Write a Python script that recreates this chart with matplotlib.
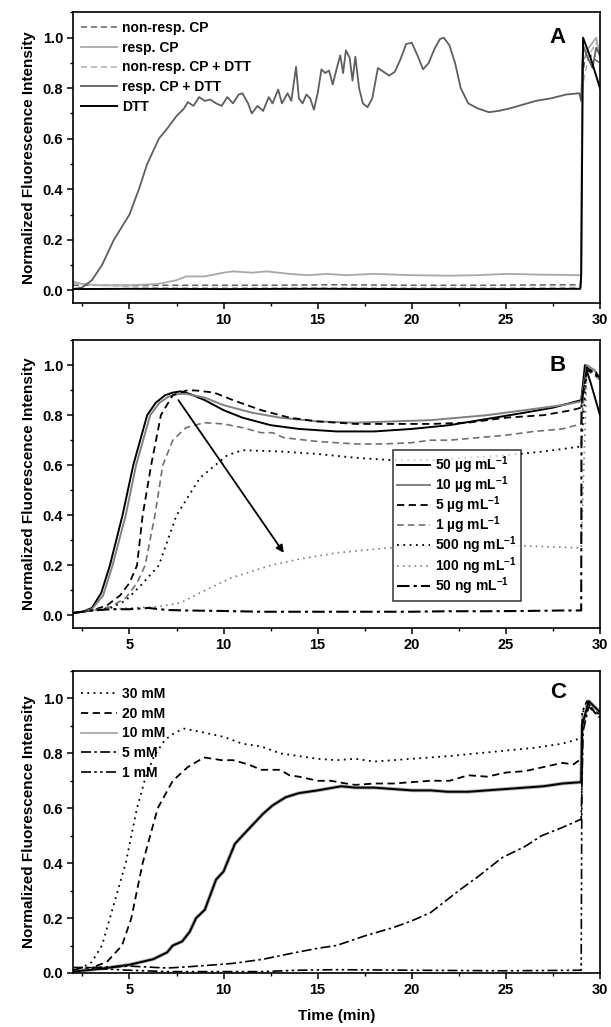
import numpy as np
import matplotlib
matplotlib.use("Agg")
import matplotlib.pyplot as plt
from matplotlib.ticker import MultipleLocator

plt.rcParams["font.family"] = ["Liberation Sans", "DejaVu Sans"]
plt.rcParams["font.weight"] = "bold"
plt.rcParams["mathtext.fontset"] = "custom"
plt.rcParams["mathtext.rm"] = "Liberation Sans:bold"
plt.rcParams["mathtext.bf"] = "Liberation Sans:bold"
plt.rcParams["mathtext.default"] = "bf"

# ---------------- Panel A data (time in min, normalized intensity) ----------------
a_labels = ["non-resp. CP", "resp. CP", "non-resp. CP + DTT", "resp. CP + DTT", "DTT"]

a_nonresp_t = [2.0, 3.0, 5.0, 8.0, 12.0, 16.0, 20.0, 24.0, 28.0, 29.0, 29.05, 29.3, 29.6, 30.0]
a_nonresp_y = [0.02, 0.02, 0.02, 0.02, 0.02, 0.022, 0.02, 0.02, 0.022, 0.022, 0.85, 0.95, 0.92, 0.90]

a_resp_t = [2.0, 2.5, 3.5, 5.0, 6.5, 7.5, 8.0, 9.0, 10.0, 10.5, 11.5, 12.3, 13.5, 14.5, 15.5,
            16.5, 18.0, 20.0, 22.0, 23.5, 25.0, 27.0, 29.0, 29.05, 29.4, 29.8, 30.0]
a_resp_y = [0.035, 0.025, 0.02, 0.02, 0.025, 0.04, 0.055, 0.055, 0.07, 0.075, 0.07, 0.075, 0.065,
            0.06, 0.065, 0.06, 0.065, 0.06, 0.058, 0.06, 0.065, 0.062, 0.06, 0.90, 0.96, 1.0, 0.92]

a_nonresp_dtt_t = [2.0, 2.5, 3.5, 5.0, 7.0, 10.0, 15.0, 20.0, 25.0, 29.0, 29.05, 29.4, 29.8, 30.0]
a_nonresp_dtt_y = [0.03, 0.025, 0.02, 0.015, 0.01, 0.01, 0.01, 0.01, 0.01, 0.012, 0.80, 0.93, 0.98, 0.95]

a_resp_dtt_t = [2.0, 2.5, 3.0, 3.54, 4.17, 5.0, 5.5, 5.94, 6.56, 7.0, 7.5, 7.9, 8.1, 8.4, 8.7, 9.0, 9.3,
                9.6, 9.9, 10.2, 10.5, 10.8, 11.0, 11.3, 11.5, 11.8, 12.1, 12.4, 12.6, 12.9, 13.1,
                13.4, 13.6, 13.85, 14.0, 14.2, 14.4, 14.6, 14.8, 15.0, 15.2, 15.4, 15.6, 15.8, 16.0,
                16.2, 16.35, 16.5, 16.7, 16.85, 17.0, 17.2, 17.4, 17.65, 17.9, 18.2, 18.5, 18.8,
                19.1, 19.4, 19.7, 20.0, 20.3, 20.6, 20.9, 21.2, 21.5, 21.7, 22.0, 22.3, 22.6,
                23.0, 23.5, 24.1, 24.6, 25.2, 25.9, 26.6, 27.4, 28.2, 28.9, 29.0, 29.1, 29.3,
                29.6, 29.8, 30.0]
a_resp_dtt_y = [0.005, 0.012, 0.04, 0.10, 0.20, 0.30, 0.40, 0.50, 0.60, 0.64, 0.69, 0.72, 0.745,
                0.73, 0.765, 0.75, 0.755, 0.74, 0.73, 0.765, 0.74, 0.775, 0.78, 0.74, 0.70, 0.73,
                0.71, 0.765, 0.74, 0.795, 0.74, 0.78, 0.75, 0.885, 0.76, 0.74, 0.775, 0.76, 0.715,
                0.78, 0.875, 0.86, 0.87, 0.815, 0.875, 0.93, 0.86, 0.95, 0.92, 0.83, 0.925, 0.80,
                0.74, 0.725, 0.76, 0.88, 0.865, 0.85, 0.865, 0.915, 0.975, 0.98, 0.93, 0.875,
                0.90, 0.955, 0.995, 1.0, 0.97, 0.90, 0.80, 0.74, 0.72, 0.705, 0.71, 0.72, 0.735,
                0.75, 0.76, 0.775, 0.78, 0.75, 0.97, 0.93, 0.88, 0.96, 0.93]

a_dtt_t = [2.0, 5.0, 10.0, 15.0, 20.0, 25.0, 28.95, 29.0, 29.1, 29.5, 30.0]
a_dtt_y = [0.005, 0.006, 0.005, 0.006, 0.005, 0.005, 0.006, 0.06, 1.0, 0.92, 0.80]

# ---------------- Panel B data ----------------
b_labels = ["50 µg mL$^{-1}$", "10 µg mL$^{-1}$", "5 µg mL$^{-1}$", "1 µg mL$^{-1}$",
            "500 ng mL$^{-1}$", "100 ng mL$^{-1}$", "50 ng mL$^{-1}$"]

b_50ug_t = [2.0, 2.5, 3.0, 3.5, 3.96, 4.63, 5.2, 5.94, 6.4, 6.9, 7.3, 7.7, 8.2, 9.0, 10.0, 11.0,
            12.5, 14.0, 16.0, 18.0, 20.0, 22.0, 24.0, 26.0, 27.5, 28.5, 29.0, 29.2, 29.5, 30.0]
b_50ug_y = [0.01, 0.015, 0.03, 0.09, 0.20, 0.40, 0.60, 0.80, 0.85, 0.88, 0.89, 0.895, 0.885,
            0.86, 0.82, 0.79, 0.76, 0.745, 0.735, 0.735, 0.745, 0.76, 0.785, 0.81, 0.83, 0.85,
            0.86, 1.0, 0.93, 0.80]

b_10ug_t = [2.0, 2.5, 3.0, 3.6, 4.1, 4.8, 5.35, 6.1, 6.6, 7.1, 7.6, 8.0, 9.0, 10.0, 11.5, 13.0,
            15.0, 17.0, 19.0, 21.0, 24.0, 26.0, 28.0, 29.0, 29.3, 29.7, 30.0]
b_10ug_y = [0.01, 0.015, 0.025, 0.08, 0.20, 0.40, 0.60, 0.80, 0.85, 0.875, 0.885, 0.885, 0.87,
            0.84, 0.81, 0.79, 0.775, 0.77, 0.775, 0.78, 0.80, 0.82, 0.84, 0.855, 1.0, 0.98, 0.95]

b_5ug_t = [2.0, 3.0, 3.8, 4.5, 5.0, 5.4, 5.7, 6.15, 6.67, 7.3, 8.1, 8.6, 9.5, 10.5, 12.0, 13.5,
           15.0, 17.0, 19.0, 21.0, 23.0, 25.0, 27.0, 28.5, 29.0, 29.3, 29.7, 30.0]
b_5ug_y = [0.01, 0.02, 0.04, 0.08, 0.13, 0.20, 0.40, 0.60, 0.80, 0.88, 0.90, 0.898, 0.89, 0.86,
           0.82, 0.79, 0.775, 0.765, 0.765, 0.765, 0.77, 0.79, 0.80, 0.82, 0.83, 0.99, 0.97, 0.95]

b_1ug_t = [2.0, 3.0, 4.0, 4.8, 5.4, 5.83, 6.35, 6.77, 7.3, 8.0, 8.96, 10.0, 11.0, 12.0, 12.6,
           13.2, 15.0, 17.0, 18.5, 20.0, 21.0, 22.0, 23.5, 25.0, 26.5, 28.0, 29.0, 29.3, 29.7, 30.0]
b_1ug_y = [0.01, 0.02, 0.035, 0.07, 0.13, 0.20, 0.40, 0.60, 0.70, 0.75, 0.77, 0.765, 0.75,
           0.73, 0.73, 0.71, 0.695, 0.685, 0.685, 0.69, 0.70, 0.70, 0.71, 0.72, 0.735, 0.745,
           0.765, 0.98, 0.96, 0.94]

b_500ng_t = [2.0, 3.0, 4.0, 4.8, 5.6, 6.56, 7.5, 8.75, 10.2, 11.0, 13.0, 15.0, 17.0, 19.0,
             21.0, 23.0, 25.0, 27.0, 29.0, 29.3, 29.7, 30.0]
b_500ng_y = [0.01, 0.02, 0.03, 0.06, 0.12, 0.20, 0.40, 0.55, 0.64, 0.66, 0.655, 0.645, 0.63,
             0.62, 0.62, 0.63, 0.64, 0.655, 0.675, 0.97, 0.98, 0.95]

b_100ng_t = [2.0, 3.0, 5.0, 6.5, 7.7, 9.0, 10.4, 12.5, 14.0, 16.0, 18.75, 21.0, 23.0, 25.0,
             27.0, 29.0, 29.3, 29.7, 30.0]
b_100ng_y = [0.01, 0.02, 0.03, 0.035, 0.05, 0.10, 0.15, 0.20, 0.225, 0.25, 0.27, 0.275, 0.275,
             0.28, 0.275, 0.27, 0.96, 0.98, 0.96]

b_50ng_t = [2.0, 3.0, 4.0, 5.0, 6.0, 7.0, 8.0, 10.0, 12.0, 14.0, 16.0, 18.0, 20.0, 22.0, 24.0,
            26.0, 28.0, 29.0, 29.02, 29.3, 29.7, 30.0]
b_50ng_y = [0.01, 0.02, 0.025, 0.025, 0.03, 0.022, 0.02, 0.018, 0.015, 0.015, 0.015, 0.015,
            0.015, 0.017, 0.017, 0.018, 0.02, 0.02, 0.85, 0.98, 0.97, 0.94]

# ---------------- Panel C data ----------------
c_labels = ["30 mM", "20 mM", "10 mM", "5 mM", "1 mM"]

c_30_t = [2.0, 2.5, 3.0, 3.54, 3.96, 4.8, 5.4, 5.8, 6.3, 6.9, 7.4, 7.9, 9.0, 10.0, 11.0, 12.0,
          13.0, 14.0, 15.0, 16.0, 17.0, 18.0, 20.0, 21.0, 22.0, 23.5, 25.0, 26.5, 28.0, 29.0,
          29.1, 29.4, 29.7, 30.0]
c_30_y = [0.01, 0.02, 0.04, 0.10, 0.20, 0.40, 0.60, 0.70, 0.79, 0.85, 0.875, 0.89, 0.875,
          0.86, 0.835, 0.825, 0.80, 0.79, 0.78, 0.775, 0.78, 0.77, 0.78, 0.785, 0.79, 0.80,
          0.81, 0.82, 0.835, 0.855, 0.95, 0.99, 0.96, 0.94]

c_20_t = [2.0, 3.0, 3.8, 4.6, 5.1, 5.7, 6.5, 7.3, 8.1, 8.96, 9.9, 10.5, 11.3, 12.0, 13.0, 13.5,
          14.0, 15.0, 15.7, 16.5, 17.0, 18.0, 19.0, 20.0, 21.0, 22.0, 23.0, 24.0, 25.0, 26.0,
          27.0, 28.0, 28.6, 29.0, 29.1, 29.4, 29.7, 30.0]
c_20_y = [0.01, 0.02, 0.04, 0.10, 0.20, 0.40, 0.60, 0.70, 0.75, 0.785, 0.775, 0.775, 0.76,
          0.74, 0.74, 0.72, 0.715, 0.70, 0.70, 0.69, 0.685, 0.69, 0.69, 0.695, 0.70, 0.70,
          0.72, 0.715, 0.73, 0.735, 0.75, 0.765, 0.76, 0.78, 0.93, 0.98, 0.95, 0.93]

c_10_t = [2.0, 3.0, 4.0, 5.0, 6.25, 7.0, 7.3, 7.8, 8.2, 8.54, 9.0, 9.6, 10.0, 10.6, 11.0, 12.1,
          12.6, 13.3, 14.0, 15.0, 16.25, 17.0, 18.0, 19.0, 20.0, 21.0, 21.9, 23.0, 24.0, 25.0,
          26.0, 27.0, 28.0, 29.0, 29.05, 29.4, 29.7, 30.0]
c_10_y = [0.005, 0.012, 0.02, 0.03, 0.05, 0.075, 0.10, 0.115, 0.15, 0.20, 0.23, 0.34, 0.37,
          0.47, 0.50, 0.58, 0.61, 0.64, 0.655, 0.665, 0.68, 0.675, 0.675, 0.67, 0.665, 0.665,
          0.66, 0.66, 0.665, 0.67, 0.675, 0.68, 0.69, 0.695, 0.90, 0.99, 0.97, 0.95]

c_5_t = [2.0, 3.0, 5.0, 7.0, 8.0, 9.6, 10.5, 12.1, 13.5, 15.0, 16.0, 17.5, 19.0, 20.0, 21.0,
         22.5, 23.5, 24.8, 26.0, 26.9, 28.0, 29.0, 29.1, 29.4, 29.7, 30.0]
c_5_y = [0.02, 0.02, 0.025, 0.018, 0.022, 0.03, 0.035, 0.05, 0.07, 0.09, 0.10, 0.135, 0.165,
         0.19, 0.22, 0.30, 0.35, 0.42, 0.46, 0.50, 0.53, 0.56, 0.88, 0.97, 0.95, 0.93]

c_1_t = [2.0, 2.5, 3.5, 5.0, 7.0, 10.0, 12.0, 14.0, 16.0, 20.0, 25.0, 28.9, 29.0, 29.05,
         29.3, 29.6, 30.0]
c_1_y = [0.01, 0.02, 0.015, 0.01, 0.005, 0.005, 0.005, 0.01, 0.012, 0.01, 0.008, 0.01, 0.01,
         0.95, 0.99, 0.96, 0.94]

# arrow in panel B (start -> end)
b_arrow = [(7.6, 0.86), (13.2, 0.25)]

DASH = (0, (4, 2.5))
DOT = (0, (1, 2.5))
DASHDOT = (0, (6, 2, 1.5, 2))
DASHDOTDOT = (0, (6, 2, 1.5, 2, 1.5, 2))
LEG_FONT = {"weight": "bold", "size": 10}


def style_axes(ax, ymin, letter, letter_y):
    ax.set_xlim(2, 30)
    ax.set_ylim(ymin, 1.1)
    ax.xaxis.set_major_locator(MultipleLocator(5))
    ax.xaxis.set_minor_locator(MultipleLocator(2.5))
    ax.yaxis.set_major_locator(MultipleLocator(0.2))
    ax.yaxis.set_minor_locator(MultipleLocator(0.1))
    ax.yaxis.set_major_formatter(plt.FormatStrFormatter("%.1f"))
    ax.tick_params(which="major", direction="out", length=4, width=1.1, labelsize=10.5, pad=3,
                   top=False, right=False)
    ax.tick_params(which="minor", direction="out", length=2.5, width=1.0, top=False, right=False)
    for lab in ax.get_xticklabels() + ax.get_yticklabels():
        lab.set_fontweight("bold")
    for sp in ax.spines.values():
        sp.set_linewidth(1.2)
    ax.set_ylabel("Normalized Fluorescence Intensity", fontsize=11, fontweight="bold", labelpad=5)
    ax.text(0.92, letter_y, letter, transform=ax.transAxes, fontsize=16, fontweight="bold",
            ha="center", va="center")


fig = plt.figure(figsize=(6.11, 10.27), dpi=100)
axA = fig.add_axes([0.1195, 0.7050, 0.8625, 0.2829])
axB = fig.add_axes([0.1195, 0.3885, 0.8625, 0.2804])
axC = fig.add_axes([0.1195, 0.0526, 0.8625, 0.2941])

# --- Panel A ---
axA.plot(a_nonresp_t, a_nonresp_y, color="#606060", lw=1.1, ls=DASH, label=a_labels[0])
axA.plot(a_resp_t, a_resp_y, color="#a8a8a8", lw=1.3, label=a_labels[1])
axA.plot(a_nonresp_dtt_t, a_nonresp_dtt_y, color="#b0b0b0", lw=1.1, ls=DASH, label=a_labels[2])
axA.plot(a_resp_dtt_t, a_resp_dtt_y, color="#5e5e5e", lw=1.3, label=a_labels[3])
axA.plot(a_dtt_t, a_dtt_y, color="black", lw=1.4, label=a_labels[4])
style_axes(axA, -0.05, "A", 0.915)
axA.legend(loc="upper left", frameon=False, handlelength=2.6, handletextpad=0.3,
           labelspacing=0.42, borderaxespad=0.3, borderpad=0.3, prop=LEG_FONT)

# --- Panel B ---
axB.plot(b_50ug_t, b_50ug_y, color="black", lw=1.4, label=b_labels[0])
axB.plot(b_10ug_t, b_10ug_y, color="#808080", lw=1.4, label=b_labels[1])
axB.plot(b_5ug_t, b_5ug_y, color="black", lw=1.3, ls=DASH, label=b_labels[2])
axB.plot(b_1ug_t, b_1ug_y, color="#707070", lw=1.2, ls=DASH, label=b_labels[3])
axB.plot(b_500ng_t, b_500ng_y, color="black", lw=1.3, ls=DOT, label=b_labels[4])
axB.plot(b_100ng_t, b_100ng_y, color="#808080", lw=1.2, ls=DOT, label=b_labels[5])
axB.plot(b_50ng_t, b_50ng_y, color="black", lw=1.5, ls=DASHDOT, label=b_labels[6])
axB.annotate("", xy=b_arrow[1], xytext=b_arrow[0],
             arrowprops=dict(arrowstyle="-|>", color="black", lw=1.3, mutation_scale=11,
                             shrinkA=0, shrinkB=0))
style_axes(axB, -0.05, "B", 0.913)
legB = axB.legend(loc="lower left", bbox_to_anchor=(0.607, 0.094, 0.243, 0.503), mode="expand",
                  frameon=True, fancybox=False, edgecolor="black", handlelength=2.4,
                  handletextpad=0.3, labelspacing=-0.1, borderpad=0.3, borderaxespad=0.0,
                  prop=LEG_FONT)
legB.get_frame().set_linewidth(1.1)

# --- Panel C ---
axC.plot(c_30_t, c_30_y, color="black", lw=1.3, ls=DOT, label=c_labels[0])
axC.plot(c_20_t, c_20_y, color="black", lw=1.3, ls=DASH, label=c_labels[1])
axC.plot(c_10_t, c_10_y, color="#a8a8a8", lw=2.6, label=c_labels[2])
axC.plot(c_10_t, c_10_y, color="black", lw=1.4)
axC.plot(c_5_t, c_5_y, color="black", lw=1.2, ls=DASHDOT, label=c_labels[3])
axC.plot(c_1_t, c_1_y, color="black", lw=1.2, ls=DASHDOTDOT, label=c_labels[4])
style_axes(axC, 0.0, "C", 0.927)
axC.set_xlabel("Time (min)", fontsize=11, fontweight="bold", labelpad=9)
hC, lC = axC.get_legend_handles_labels()
legC = axC.legend(hC, lC, loc="upper left", bbox_to_anchor=(0.0, 0.975), frameon=False,
                  handlelength=2.6, handletextpad=0.3, labelspacing=0.42, borderaxespad=0.3,
                  borderpad=0.3, prop=LEG_FONT)
legC.get_lines()[2].set_linewidth(1.3)

fig.savefig("out.png", dpi=100)
